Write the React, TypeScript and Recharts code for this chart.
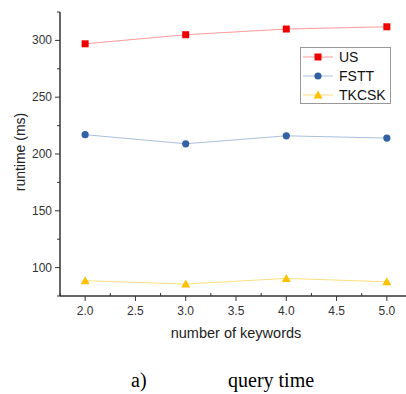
import React from "react";
import { LineChart, Line, XAxis, YAxis } from "recharts";

const keywords = [2.0, 3.0, 4.0, 5.0];
const usTimes = [297, 305, 310, 312];
const fsttTimes = [217, 209, 216, 214];
const tkcskTimes = [88.5, 85.5, 90.5, 87.5];

const xTicks = [1.75, 2.0, 2.25, 2.5, 2.75, 3.0, 3.25, 3.5, 3.75, 4.0, 4.25, 4.5, 4.75, 5.0, 5.25];
const yTicks = [75, 100, 125, 150, 175, 200, 225, 250, 275, 300, 325];

const data = keywords.map((k, i) => ({
  k,
  US: usTimes[i],
  FSTT: fsttTimes[i],
  TKCSK: tkcskTimes[i],
}));

const series = [
  { key: "US", line: "#ff9a9a", mark: "#ee0000", shape: "square" },
  { key: "FSTT", line: "#a9c0e0", mark: "#3262a4", shape: "circle" },
  { key: "TKCSK", line: "#ffdf80", mark: "#ffc000", shape: "triangle" },
];

const FONT = "'Liberation Sans', Arial, sans-serif";
const AXIS = "#333";

function Marker({ cx, cy, shape, color }: any) {
  if (cx == null || cy == null) return null;
  if (shape === "square") return <rect x={cx - 3.5} y={cy - 3.5} width={7} height={7} fill={color} />;
  if (shape === "circle") return <circle cx={cx} cy={cy} r={3.6} fill={color} />;
  return <polygon points={`${cx},${cy - 4.5} ${cx - 4.5},${cy + 3.5} ${cx + 4.5},${cy + 3.5}`} fill={color} />;
}

function YTick(props: any) {
  const { x, y, payload } = props;
  const v = payload.value;
  const major = v % 50 === 0;
  return (
    <g>
      <line x1={x - (major ? 5 : 3)} x2={x} y1={y} y2={y} stroke={AXIS} strokeWidth={1} />
      {major && v !== 325 ? (
        <text x={x - 8} y={y} dy={4} textAnchor="end" fontSize={12} fill="#333" fontFamily={FONT}>
          {v}
        </text>
      ) : null}
    </g>
  );
}

function XTick(props: any) {
  const { x, y, payload } = props;
  const v = payload.value;
  const major = Math.abs(v * 2 - Math.round(v * 2)) < 1e-6;
  const labeled = major && v >= 2 && v <= 5;
  return (
    <g>
      {major ? (
        <line x1={x} x2={x} y1={y} y2={y + 5} stroke={AXIS} strokeWidth={1} />
      ) : (
        <line x1={x} x2={x} y1={y - 3} y2={y} stroke={AXIS} strokeWidth={1} />
      )}
      {labeled ? (
        <text x={x} y={y + 19} textAnchor="middle" fontSize={12} fill="#333" fontFamily={FONT}>
          {v.toFixed(1)}
        </text>
      ) : null}
    </g>
  );
}

function LegendBox() {
  return (
    <svg width={92} height={58} style={{ display: "block" }}>
      <rect x={0.5} y={0.5} width={90} height={56} fill="#fff" stroke="#999" />
      {series.map((s, i) => {
        const cy = 10 + i * 19;
        return (
          <g key={s.key}>
            <line x1={3} x2={33} y1={cy} y2={cy} stroke={s.line} strokeWidth={1} />
            <Marker cx={18} cy={cy} shape={s.shape} color={s.mark} />
            <text x={39} y={cy + 5} fontSize={14} fill="#111" fontFamily={FONT}>
              {s.key}
            </text>
          </g>
        );
      })}
    </svg>
  );
}

export default function App() {
  return (
    <div style={{ position: "absolute", left: 0, top: 0, width: 406, height: 394, overflow: "hidden", background: "#fff" }}>
      <LineChart width={412} height={394} data={data} margin={{ top: 12, right: 0, left: 0, bottom: 0 }}>
        <XAxis
          dataKey="k"
          type="number"
          domain={[1.75, 5.25]}
          ticks={xTicks}
          interval={0}
          tickSize={0}
          tickMargin={0}
          tickLine={false}
          axisLine={{ stroke: AXIS, strokeWidth: 1.5 }}
          tick={<XTick />}
          height={98}
          label={(p: any) => {
            const vb = p.viewBox;
            return (
              <text x={vb.x + vb.width / 2} y={vb.y + 42} textAnchor="middle" fontSize={14.5} fill="#222" fontFamily={FONT}>
                number of keywords
              </text>
            );
          }}
        />
        <YAxis
          type="number"
          domain={[75, 325]}
          ticks={yTicks}
          interval={0}
          tickSize={0}
          tickMargin={0}
          tickLine={false}
          axisLine={{ stroke: AXIS, strokeWidth: 1.5 }}
          tick={<YTick />}
          width={60}
          label={() => {
            const cx = 20;
            const cy = 152;
            return (
              <text x={cx} y={cy} transform={`rotate(-90 ${cx} ${cy})`} textAnchor="middle" dominantBaseline="central" fontSize={14} fill="#222" fontFamily={FONT}>
                runtime (ms)
              </text>
            );
          }}
        />
        {series.map((s) => (
          <Line
            key={s.key}
            dataKey={s.key}
            stroke={s.line}
            strokeWidth={1}
            isAnimationActive={false}
            dot={(p: any) => <Marker key={`${s.key}-${p.index}`} cx={p.cx} cy={p.cy} shape={s.shape} color={s.mark} />}
            activeDot={false}
          />
        ))}
      </LineChart>
      <div style={{ position: "absolute", left: 300, top: 47 }}>
        <LegendBox />
      </div>
      <div style={{ position: "absolute", left: 0, top: 369, width: 406, fontFamily: "'Liberation Serif', 'Times New Roman', serif", fontSize: 20, color: "#000" }}>
        <span style={{ position: "absolute", left: 131 }}>a)</span>
        <span style={{ position: "absolute", left: 228 }}>query time</span>
      </div>
    </div>
  );
}
